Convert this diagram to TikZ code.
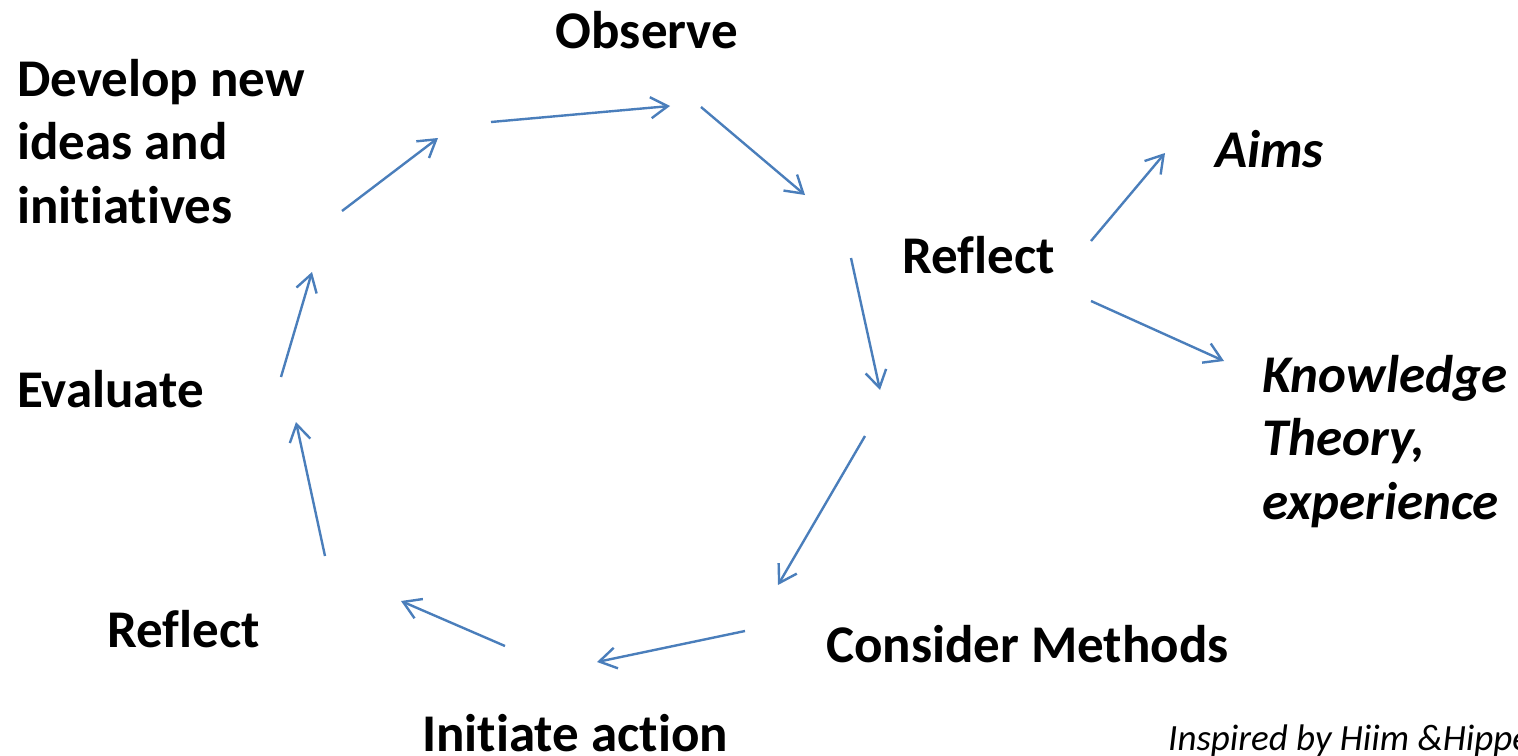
\documentclass[tikz,border=0pt]{standalone}
\usepackage{fontspec}
\setmainfont{Carlito}[Ligatures=NoCommon]
\usetikzlibrary{arrows.meta}
\definecolor{cycleblue}{RGB}{74,126,187}

\begin{document}
\begin{tikzpicture}[x=1pt, y=-1pt, >={Straight Barb[length=17pt, width=21pt]},
  stage/.style={anchor=base west, inner sep=0pt, align=left,
    font=\fontsize{53}{63.5}\selectfont\bfseries},
  source/.style={stage, font=\fontsize{53}{63.5}\selectfont\bfseries\itshape},
  flow/.style={->, draw=cycleblue, line width=2.4pt}]
\useasboundingbox (0,0) rectangle (1518,755);
% stages of the cycle (multi-line nodes sit on their last line)
\node[stage, anchor=base] (observe) at (647,48) {Observe};
\node[stage] (develop) at (17,223) {Develop new\\ideas and\\initiatives};
\node[stage] (reflectA) at (902,273) {Reflect};
\node[stage] (evaluate) at (17,407) {Evaluate};
\node[stage] (reflectB) at (107,647) {Reflect};
\node[stage] (consider) at (826,662) {Consider Methods};
\node[stage] (initiate) at (422,751) {Initiate action};
\node[source] (aims) at (1215,167) {Aims};
\node[source] (knowledge) at (1262,519) {Knowledge\\Theory,\\experience};
\node[anchor=base west, inner sep=0pt, font=\fontsize{37}{44}\selectfont\itshape]
  (inspired) at (1168,750) {Inspired by Hiim \&Hippe};
% arrow ends
\coordinate (p1) at (491,122);  \coordinate (q1) at (670,106);
\coordinate (p2) at (701,107);  \coordinate (q2) at (805,195);
\coordinate (p3) at (851,258);  \coordinate (q3) at (880,390);
\coordinate (p4) at (865,436);  \coordinate (q4) at (778,585);
\coordinate (p5) at (745,631);  \coordinate (q5) at (597,662);
\coordinate (p6) at (505,646);  \coordinate (q6) at (401,601);
\coordinate (p7) at (325,556);  \coordinate (q7) at (296,422);
\coordinate (p8) at (281,377);  \coordinate (q8) at (312,272);
\coordinate (p9) at (342,211);  \coordinate (q9) at (438,138);
\coordinate (p10) at (1091,241); \coordinate (q10) at (1165,153);
\coordinate (p11) at (1091,301); \coordinate (q11) at (1224,361);
\foreach \i in {1,...,11}
  \draw[flow] (p\i) -- (q\i);
\end{tikzpicture}
\end{document}
